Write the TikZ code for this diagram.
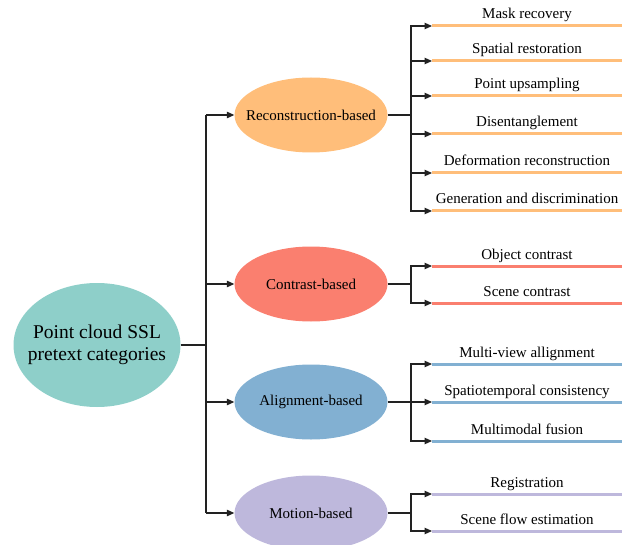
\documentclass[tikz,border=0pt]{standalone}
\usepackage{fontspec}
\setmainfont{Liberation Serif}
\usetikzlibrary{arrows.meta,shapes.geometric}

\definecolor{cRoot}{HTML}{8ECFC9}
\definecolor{cRec}{HTML}{FFBE7A}
\definecolor{cCon}{HTML}{FA7F6F}
\definecolor{cAli}{HTML}{82B0D2}
\definecolor{cMot}{HTML}{BEB8DC}
\definecolor{cLine}{HTML}{222222}

\tikzset{
  % ellipses keep a fixed size; their text is set as a centred label
  rootnode/.style={ellipse, fill=cRoot, minimum width=167pt, minimum height=124pt,
    inner sep=0pt,
    label={[align=center, font=\fontsize{19.5}{22}\selectfont]center:#1}},
  catnode/.style={ellipse, minimum width=153pt, minimum height=75pt,
    inner sep=0pt,
    label={[font=\fontsize{15}{17}\selectfont]center:#1}},
  leaftext/.style={anchor=base, inner sep=0pt, font=\fontsize{15}{17}\selectfont},
  leafline/.style={line width=3pt},
  conn/.style={draw=cLine, line width=1.1pt},
  arr/.style={conn, -{Triangle[length=7.5pt,width=6.5pt]}},
}

\begin{document}
\begin{tikzpicture}[x=1pt, y=-1pt]
\useasboundingbox (0,0) rectangle (623,545);

% root and category ellipses
\node[rootnode={Point cloud SSL\\pretext categories}] (root) at (97,345) {};
\node[catnode=Reconstruction-based, fill=cRec] (rec) at (311,115) {};
\node[catnode=Contrast-based, fill=cCon] (con) at (311,284) {};
\node[catnode=Alignment-based, fill=cAli] (ali) at (311,402) {};
\node[catnode=Motion-based, fill=cMot] (mot) at (311,513) {};

% trunk from the root to the categories
\coordinate (trunk) at (206,345);
\draw[conn] (root.east) -- (trunk);
\draw[conn] (206,115) -- (206,513);
\foreach \c in {rec,con,ali,mot}
  \draw[arr] (trunk |- \c.west) -- (\c.west);

% leaves: a label over a coloured rule, fed from a bus beside each category
\foreach \cat/\col/\lst in {
  rec/cRec/{26/Mask recovery, 61/Spatial restoration, 96/Point upsampling,
            134/Disentanglement, 173/Deformation reconstruction,
            211/Generation and discrimination},
  con/cCon/{266/Object contrast, 303/Scene contrast},
  ali/cAli/{364/Multi-view allignment, 402/Spatiotemporal consistency,
            441/Multimodal fusion},
  mot/cMot/{494/Registration, 531/Scene flow estimation}}{
  \coordinate (\cat-bus) at (411,0);
  \draw[conn] (\cat.east) -- (\cat-bus |- \cat.east);
  \foreach \y/\t [count=\i] in \lst {
    \coordinate (\cat-s\i) at (432,\y);
    \coordinate (\cat-e\i) at (622,\y);
    \node[leaftext] (\cat-l\i) at (527,\y-7) {\t};
    \draw[leafline, draw=\col] (\cat-s\i) -- (\cat-e\i);
    \draw[arr] (\cat-bus |- \cat.east) |- (\cat-s\i);
  }
}
\end{tikzpicture}
\end{document}
